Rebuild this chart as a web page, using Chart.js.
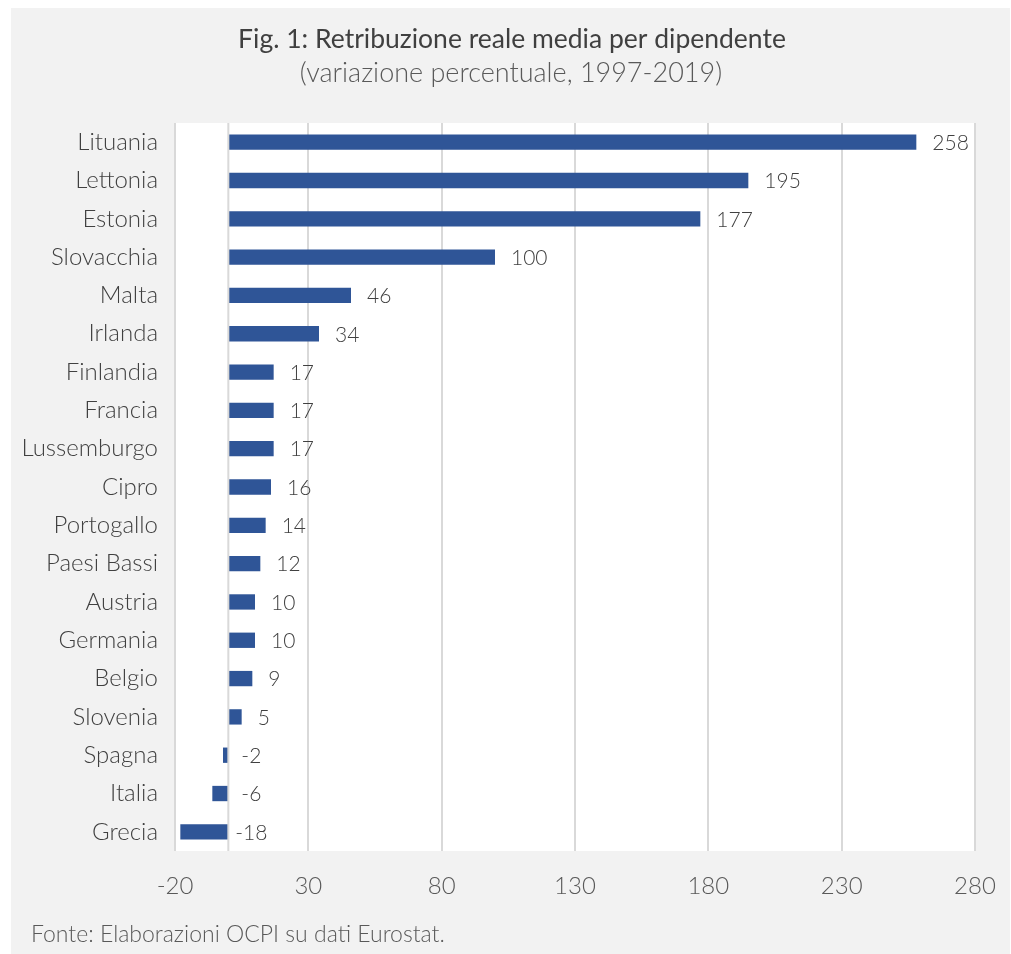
<!DOCTYPE html>
<html>
<head>
<meta charset="utf-8">
<script src="https://cdn.jsdelivr.net/npm/chart.js@4"></script>
<style>
  body { margin: 0; background: #fff; }
  canvas { display: block; }
</style>
</head>
<body>
<canvas id="salariChart" width="1011" height="954"></canvas>
<script>
const countries = ['Lituania', 'Lettonia', 'Estonia', 'Slovacchia', 'Malta', 'Irlanda', 'Finlandia', 'Francia',
    'Lussemburgo', 'Cipro', 'Portogallo', 'Paesi Bassi', 'Austria', 'Germania', 'Belgio', 'Slovenia',
    'Spagna', 'Italia', 'Grecia'];
const variation = [258, 195, 177, 100, 46, 34, 17, 17, 17, 16, 14, 12, 10, 10, 9, 5, -2, -6, -18];
const axisMin = -20;
const axisMax = 280;
const axisStep = 50;

const FONT = 'Lato, "Open Sans", sans-serif';

// gray panel, white plot area, zero line, titles, footer and value labels
const decorations = {
    id: 'decorations',
    beforeDraw(chart) {
        const ctx = chart.ctx;
        const a = chart.chartArea;
        ctx.save();
        ctx.fillStyle = '#f2f2f2';
        ctx.fillRect(11, 8, 999, 946);
        ctx.fillStyle = '#ffffff';
        ctx.fillRect(a.left, a.top, a.right - a.left, a.bottom - a.top);

        ctx.textAlign = 'center';
        ctx.textBaseline = 'middle';
        ctx.fillStyle = '#404040';
        ctx.font = '400 26.5px ' + FONT;
        ctx.fillText('Fig. 1: Retribuzione reale media per dipendente', 512, 39);
        ctx.fillStyle = '#595959';
        ctx.font = '300 27px ' + FONT;
        ctx.fillText('(variazione percentuale, 1997-2019)', 511, 73);

        ctx.textAlign = 'left';
        ctx.font = '300 23px ' + FONT;
        ctx.fillText('Fonte: Elaborazioni OCPI su dati Eurostat.', 31, 935);
        ctx.restore();
    },
    afterDatasetsDraw(chart) {
        const ctx = chart.ctx;
        const x = chart.scales.x;
        const zero = x.getPixelForValue(0);
        ctx.save();
        ctx.strokeStyle = '#d9d9d9';
        ctx.lineWidth = 2;
        ctx.beginPath();
        ctx.moveTo(zero, chart.chartArea.top);
        ctx.lineTo(zero, chart.chartArea.bottom);
        ctx.stroke();

        ctx.fillStyle = '#404040';
        ctx.font = '300 21px ' + FONT;
        ctx.textBaseline = 'middle';
        chart.getDatasetMeta(0).data.forEach((bar, i) => {
            const v = variation[i];
            if (v >= 0) {
                ctx.textAlign = 'left';
                ctx.fillText(v, bar.x + 16, bar.y + 1);
            } else {
                ctx.textAlign = 'center';
                ctx.fillText(v, zero + 23, bar.y + 1);
            }
        });
        ctx.restore();
    }
};

new Chart(document.getElementById('salariChart'), {
    type: 'bar',
    data: {
        labels: countries,
        datasets: [{
            data: variation,
            backgroundColor: '#2f5597',
            borderWidth: 0,
            barPercentage: 0.4,
            categoryPercentage: 1
        }]
    },
    options: {
        indexAxis: 'y',
        responsive: false,
        animation: false,
        layout: {
            padding: { top: 123, right: 36, bottom: 53, left: 0 }
        },
        plugins: {
            legend: { display: false },
            tooltip: { enabled: false }
        },
        scales: {
            x: {
                min: axisMin,
                max: axisMax,
                ticks: {
                    stepSize: axisStep,
                    color: '#595959',
                    font: { family: FONT, size: 24, weight: 300 },
                    padding: 3
                },
                // invisible tick marks push the labels down without widening the side padding
                grid: { color: '#d9d9d9', lineWidth: 2, tickLength: 18, tickColor: 'rgba(0,0,0,0)' },
                border: { display: false },
                afterFit(scale) { scale.height = 50; }
            },
            y: {
                ticks: {
                    color: '#404040',
                    font: { family: FONT, size: 24, weight: 300 },
                    padding: 9
                },
                grid: { display: false },
                border: { display: false },
                afterFit(scale) { scale.width = 175; }
            }
        }
    },
    plugins: [decorations]
});
</script>
</body>
</html>
